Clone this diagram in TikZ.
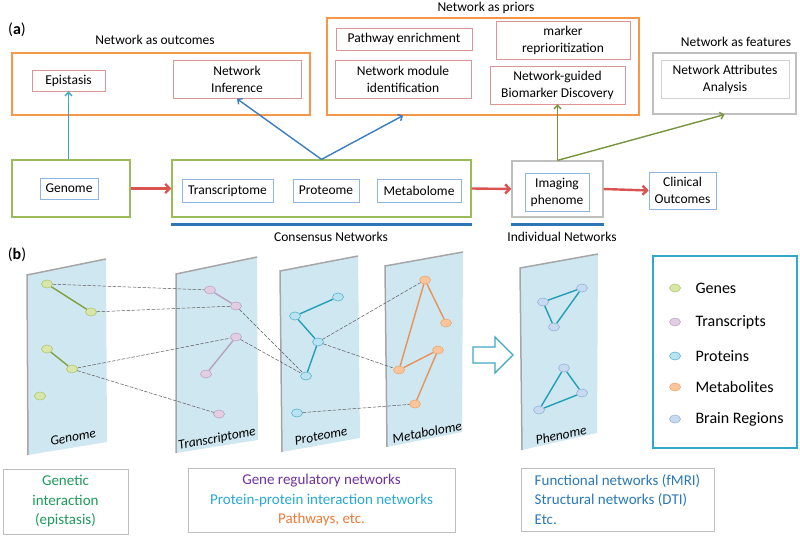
\documentclass[tikz,border=0pt]{standalone}
\usepackage{fontspec}
\setmainfont{Carlito}
\usepackage{tikz}
\usetikzlibrary{arrows,arrows.meta,backgrounds,calc,shapes.geometric}

\definecolor{priorsorange}{HTML}{F79646}
\definecolor{boxred}{HTML}{D99694}
\definecolor{omicgreen}{HTML}{9BBB59}
\definecolor{innerblue}{HTML}{8EB4E3}
\definecolor{boxgray}{HTML}{BFBFBF}
\definecolor{arrowred}{HTML}{DA534F}
\definecolor{barblue}{HTML}{2E75B6}
\definecolor{arrowteal}{HTML}{3EA8C2}
\definecolor{arrowblue}{HTML}{3A7DC0}
\definecolor{arrowgreen}{HTML}{77933C}
\definecolor{planefill}{HTML}{CFE7F0}
\definecolor{planeedge}{HTML}{A6A6A6}
\definecolor{genefill}{HTML}{D8E6A8}
\definecolor{genedraw}{HTML}{A9C26A}
\definecolor{transfill}{HTML}{E3CDE3}
\definecolor{transdraw}{HTML}{B89CC0}
\definecolor{protfill}{HTML}{B9E3F0}
\definecolor{protdraw}{HTML}{4BACC6}
\definecolor{metfill}{HTML}{FBC59C}
\definecolor{metdraw}{HTML}{EDA060}
\definecolor{regfill}{HTML}{C8DAF0}
\definecolor{regdraw}{HTML}{8DAAD8}
\definecolor{geneline}{HTML}{7FA03C}
\definecolor{transline}{HTML}{B8A0C0}
\definecolor{protline}{HTML}{1FA0B8}
\definecolor{metline}{HTML}{E8925A}
\definecolor{legendline}{HTML}{31A8C4}
\definecolor{txtgreen}{HTML}{1E9A5A}
\definecolor{txtpurple}{HTML}{7030A0}
\definecolor{txtcyan}{HTML}{27A9D8}
\definecolor{txtorange}{HTML}{EE7A35}
\definecolor{txtblue}{HTML}{2A78B8}

\newcommand{\toptext}{\fontsize{13.5}{17}\selectfont}
\newcommand{\notetext}{\fontsize{15}{19.5}\selectfont}

\tikzset{
  orangebox/.style={draw=priorsorange, line width=1.2pt},
  greenbox/.style={draw=omicgreen, line width=1.2pt},
  graybox/.style={draw=boxgray, line width=1.2pt},
  redtag/.style={draw=boxred, line width=0.6pt, align=center, font=\toptext},
  bluetag/.style={draw=innerblue, line width=0.6pt, align=center, font=\toptext},
  graytag/.style={draw=boxgray!70, line width=0.6pt, align=center, font=\toptext},
  flow/.style={-{Straight Barb[length=4.5pt,width=9pt]}, draw=arrowred, line width=2.4pt},
  bar/.style={draw=barblue, line width=2.6pt},
  uparrow/.style={-{Straight Barb[length=3.5pt,width=7pt]}, line width=1.4pt},
  dot/.style={ellipse, minimum width=11pt, minimum height=8pt, inner sep=0pt, line width=0.5pt},
  gene/.style={dot, fill=genefill, draw=genedraw},
  transcript/.style={dot, fill=transfill, draw=transdraw},
  protein/.style={dot, fill=protfill, draw=protdraw},
  metabolite/.style={dot, fill=metfill, draw=metdraw},
  region/.style={dot, fill=regfill, draw=regdraw},
  link/.style={line width=1.4pt},
  crosslink/.style={draw=black!65, line width=0.5pt, dash pattern=on 3.5pt off 1.5pt},
  planelabel/.style={font=\fontsize{13.5}{15}\selectfont\itshape, rotate=11, inner sep=0pt},
  notebox/.style={draw=boxgray, line width=0.9pt, font=\notetext},
}

\begin{document}
\begin{tikzpicture}[x=1pt,y=-1pt]
\useasboundingbox (0,0) rectangle (800,537);

% (a) network roles
\node[font=\fontsize{16}{18}\selectfont] (alabel) at (17,30) {(\textbf{a})};

\node[font=\toptext] (outhead) at (155,40) {Network as outcomes};
\node[orangebox, minimum width=298pt, minimum height=62pt] (outbox) at (161,84) {};
\node[redtag, minimum width=73pt, minimum height=21pt] (epi) at (68.5,80.5) {Epistasis};
\node[redtag, minimum width=128pt, minimum height=38pt] (ninf) at (237,79.5) {Network\\Inference};

\node[font=\toptext] (priorhead) at (486,8) {Network as priors};
\node[orangebox, minimum width=312pt, minimum height=97pt] (priorbox) at (483,66.5) {};
\node[redtag, minimum width=136pt, minimum height=22pt] (path) at (404,39) {Pathway enrichment};
\node[redtag, minimum width=136pt, minimum height=38pt] (modid) at (403,79) {Network module\\identification};
\node[redtag, minimum width=134pt, minimum height=38pt] (repri) at (563,40) {marker\\reprioritization};
\node[redtag, minimum width=135pt, minimum height=38pt] (ngbd) at (557.5,85) {Network-guided\\Biomarker Discovery};

\node[font=\toptext] (feathead) at (736,42) {Network as features};
\node[graybox, minimum width=143pt, minimum height=61pt] (featbox) at (724.5,83.5) {};
\node[graytag, minimum width=128pt, minimum height=38pt] (attr) at (725,79) {Network Attributes\\Analysis};

% omics row
\node[greenbox, minimum width=118pt, minimum height=57pt] (genbox) at (71,188.5) {};
\node[bluetag, minimum width=58pt, minimum height=21pt] (genome) at (69,188.5) {Genome};
\node[greenbox, minimum width=299pt, minimum height=57pt] (consbox) at (321.5,188.5) {};
\node[bluetag, minimum width=91pt, minimum height=23pt] (trans) at (227.5,190.5) {Transcriptome};
\node[bluetag, minimum width=66pt, minimum height=23pt] (prot) at (326,190.5) {Proteome};
\node[bluetag, minimum width=84pt, minimum height=23pt] (metab) at (419,190.5) {Metabolome};
\node[graybox, minimum width=91pt, minimum height=56pt] (imgbox) at (557.5,189) {};
\node[bluetag, minimum width=64pt, minimum height=38pt] (img) at (557,192) {Imaging\\phenome};
\node[bluetag, minimum width=67pt, minimum height=37pt] (clin) at (682.5,190.5) {Clinical\\Outcomes};

\draw[flow] (genbox.east) -- (consbox.west);
\draw[flow] (consbox.east) -- (imgbox.west);
\draw[flow] (imgbox.east) -- (clin.west);

\draw[bar] ([yshift=-7pt]consbox.south west) -- ([yshift=-7pt]consbox.south east);
\draw[bar] ([yshift=-7pt]imgbox.south west) -- ([yshift=-7pt]imgbox.south east);
\node[font=\toptext] (consnet) at (331,237) {Consensus Networks};
\node[font=\toptext] (indnet) at (562,237) {Individual Networks};

\draw[uparrow, arrowteal] (epi.south |- genbox.north) -- (epi.south);
\draw[uparrow, arrowblue] (consbox.north) -- (ninf.south);
\draw[uparrow, arrowblue] (consbox.north) -- (modid.south |- priorbox.south);
\draw[uparrow, arrowgreen] (imgbox.north) -- (ngbd.south -| imgbox.north);
\draw[uparrow, arrowgreen] (imgbox.north) -- (featbox.south);

% (b) omic layers
\node[font=\fontsize{16}{18}\selectfont] (blabel) at (17,255) {(\textbf{b})};

\fill[planefill] (27,275) -- (106,259) -- (107,442) -- (28,455) -- cycle;
\draw[planeedge, line width=1.5pt] (28,455) -- (27,275) -- (106,259);
\fill[planefill] (176,274) -- (257,257) -- (258,440) -- (176,453) -- cycle;
\draw[planeedge, line width=1.5pt] (176,453) -- (176,274) -- (257,257);
\fill[planefill] (280,271) -- (358,256) -- (360,438) -- (282,452) -- cycle;
\draw[planeedge, line width=1.5pt] (282,452) -- (280,271) -- (358,256);
\fill[planefill] (385,266) -- (463,252) -- (462,432) -- (387,447) -- cycle;
\draw[planeedge, line width=1.5pt] (387,447) -- (385,266) -- (463,252);
\fill[planefill] (520,268) -- (598,254) -- (597,433) -- (522,450) -- cycle;
\draw[planeedge, line width=1.5pt] (522,450) -- (520,268) -- (598,254);

\node[planelabel] (glab) at (73,437) {Genome};
\node[planelabel] (tlab) at (217,439) {Transcriptome};
\node[planelabel] (plab) at (321,436) {Proteome};
\node[planelabel] (mlab) at (427,432) {Metabolome};
\node[planelabel] (rlab) at (561,435) {Phenome};

\node[gene] (g1) at (47,284) {};
\node[gene] (g2) at (91,312) {};
\node[gene] (g3) at (47,349) {};
\node[gene] (g4) at (72,369) {};
\node[gene] (g5) at (40,396) {};

\node[transcript] (t1) at (210,290) {};
\node[transcript] (t2) at (236,306) {};
\node[transcript] (t3) at (236,337) {};
\node[transcript] (t4) at (206,374) {};
\node[transcript] (t5) at (219,414) {};

\node[protein] (p1) at (338,297) {};
\node[protein] (p2) at (295,316) {};
\node[protein] (p3) at (318,342) {};
\node[protein] (p4) at (306,376) {};
\node[protein] (p5) at (297,413) {};

\node[metabolite] (m1) at (425,280) {};
\node[metabolite] (m2) at (446,323) {};
\node[metabolite] (m3) at (438,350) {};
\node[metabolite] (m4) at (399,370) {};
\node[metabolite] (m5) at (415,404) {};

\node[region] (b1) at (543,302) {};
\node[region] (b2) at (582,288) {};
\node[region] (b3) at (554,327) {};
\node[region] (b4) at (564,368) {};
\node[region] (b5) at (582,393) {};
\node[region] (b6) at (539,410) {};

\draw[link, geneline] (g1) -- (g2);
\draw[link, geneline] (g3) -- (g4);
\draw[link, transline] (t1) -- (t2);
\draw[link, transline] (t3) -- (t4);
\draw[link, protline] (p1) -- (p2) -- (p3) -- (p4);
\draw[link, metline] (m2) -- (m1) -- (m4) -- (m3) -- (m5);
\draw[link, protline] (b1) -- (b2) -- (b3) -- (b1);
\draw[link, protline] (b4) -- (b5) -- (b6) -- (b4);

\draw[crosslink] (g1) -- (t1);
\draw[crosslink] (g2) -- (t2);
\draw[crosslink] (g4) -- (t3);
\draw[crosslink] (g4) -- (t5);
\draw[crosslink] (t2) -- (p4);
\draw[crosslink] (t3) -- (p4);
\draw[crosslink] (p3) -- (m1);
\draw[crosslink] (p3) -- (m4);
\draw[crosslink] (p5) -- (m5);

\draw[draw=arrowteal, fill=white, line width=1.3pt] (473,347) -- (495,347) -- (495,337) -- (513,355) -- (495,373) -- (495,363) -- (473,363) -- cycle;

% legend
\node[draw=legendline, line width=1.3pt, minimum width=144pt, minimum height=192pt] (legend) at (725,352) {};
\node[gene] (lg1) at (675,288) {};
\node[transcript] (lg2) at (675,322) {};
\node[protein] (lg3) at (675,356) {};
\node[metabolite] (lg4) at (675,387) {};
\node[region] (lg5) at (675,419) {};
\node[anchor=west, font=\fontsize{16}{18}\selectfont] (lt1) at (692,288) {Genes};
\node[anchor=west, font=\fontsize{16}{18}\selectfont] (lt2) at (692,322) {Transcripts};
\node[anchor=west, font=\fontsize{16}{18}\selectfont] (lt3) at (692,356) {Proteins};
\node[anchor=west, font=\fontsize{16}{18}\selectfont] (lt4) at (692,387) {Metabolites};
\node[anchor=west, font=\fontsize{16}{18}\selectfont] (lt5) at (692,419) {Brain Regions};

% network types
\node[notebox, align=center, text=txtgreen, minimum width=125pt, minimum height=65pt] (gnote) at (65.5,501.5) {Genetic\\interaction\\(epistasis)};
\node[notebox, align=center, minimum width=267pt, minimum height=64pt] (mnote) at (321.5,500) {{\color{txtpurple}Gene regulatory networks}\\{\color{txtcyan}Protein-protein interaction networks}\\{\color{txtorange}Pathways, etc.}};
\node[notebox, align=left, text=txtblue, minimum width=193pt, minimum height=63pt] (rnote) at (617.5,499.5) {Functional networks (fMRI)\\Structural networks (DTI)\\Etc.};
\end{tikzpicture}
\end{document}
